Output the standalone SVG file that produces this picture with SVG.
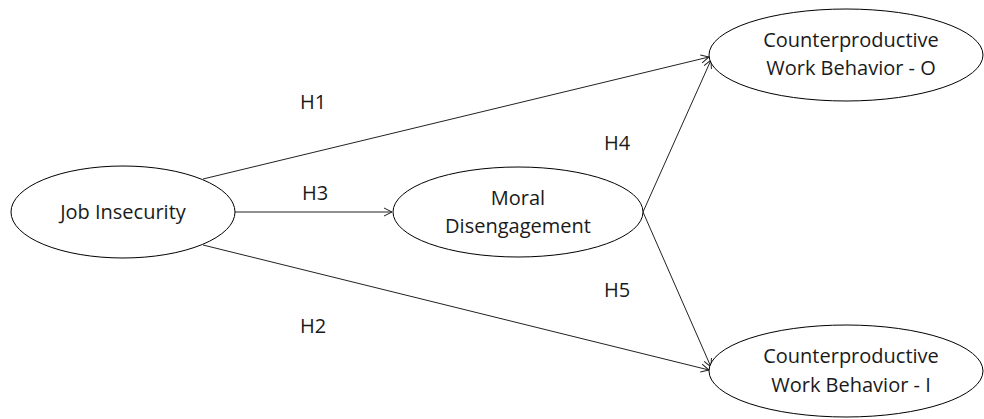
<svg xmlns="http://www.w3.org/2000/svg" width="984" height="419" viewBox="0 0 984 419">
<style>
.n{fill:#fff;stroke:#000;stroke-width:1}
.t{font-family:"Open Sans","Liberation Sans",sans-serif;font-size:20px;fill:#1a1a1a;text-anchor:middle}
.c{stroke:#222;stroke-width:1;fill:none;marker-end:url(#a)}
</style>
<defs>
<marker id="a" markerWidth="10" markerHeight="10" refX="9" refY="5" orient="auto" markerUnits="userSpaceOnUse">
<path d="M1,1 L9,5 L1,9" fill="none" stroke="#222" stroke-width="1"/>
</marker>
</defs>
<rect width="984" height="419" fill="#fff"/>
<g id="connectors">
<line class="c" x1="203" y1="179" x2="709" y2="57"/>
<line class="c" x1="235" y1="212" x2="392" y2="212"/>
<line class="c" x1="203" y1="245" x2="709" y2="370"/>
<line class="c" x1="643" y1="212" x2="711" y2="60"/>
<line class="c" x1="643" y1="212" x2="711" y2="367"/>
<text class="t" x="313" y="109">H1</text>
<text class="t" x="315" y="200">H3</text>
<text class="t" x="313" y="333">H2</text>
<text class="t" x="617" y="150">H4</text>
<text class="t" x="617" y="297">H5</text>
</g>
<g id="job-insecurity">
<ellipse class="n" cx="123" cy="212" rx="112" ry="46"/>
<text class="t" x="123" y="219">Job Insecurity</text>
</g>
<g id="moral-disengagement">
<ellipse class="n" cx="518" cy="212" rx="125" ry="45"/>
<text class="t" x="518" y="205">Moral</text>
<text class="t" x="518" y="233">Disengagement</text>
</g>
<g id="cwb-o">
<ellipse class="n" cx="846" cy="55" rx="137" ry="46"/>
<text class="t" x="851" y="47">Counterproductive</text>
<text class="t" x="851" y="75">Work Behavior - O</text>
</g>
<g id="cwb-i">
<ellipse class="n" cx="846" cy="371" rx="137" ry="46"/>
<text class="t" x="851" y="363">Counterproductive</text>
<text class="t" x="851" y="392">Work Behavior - I</text>
</g>
</svg>
